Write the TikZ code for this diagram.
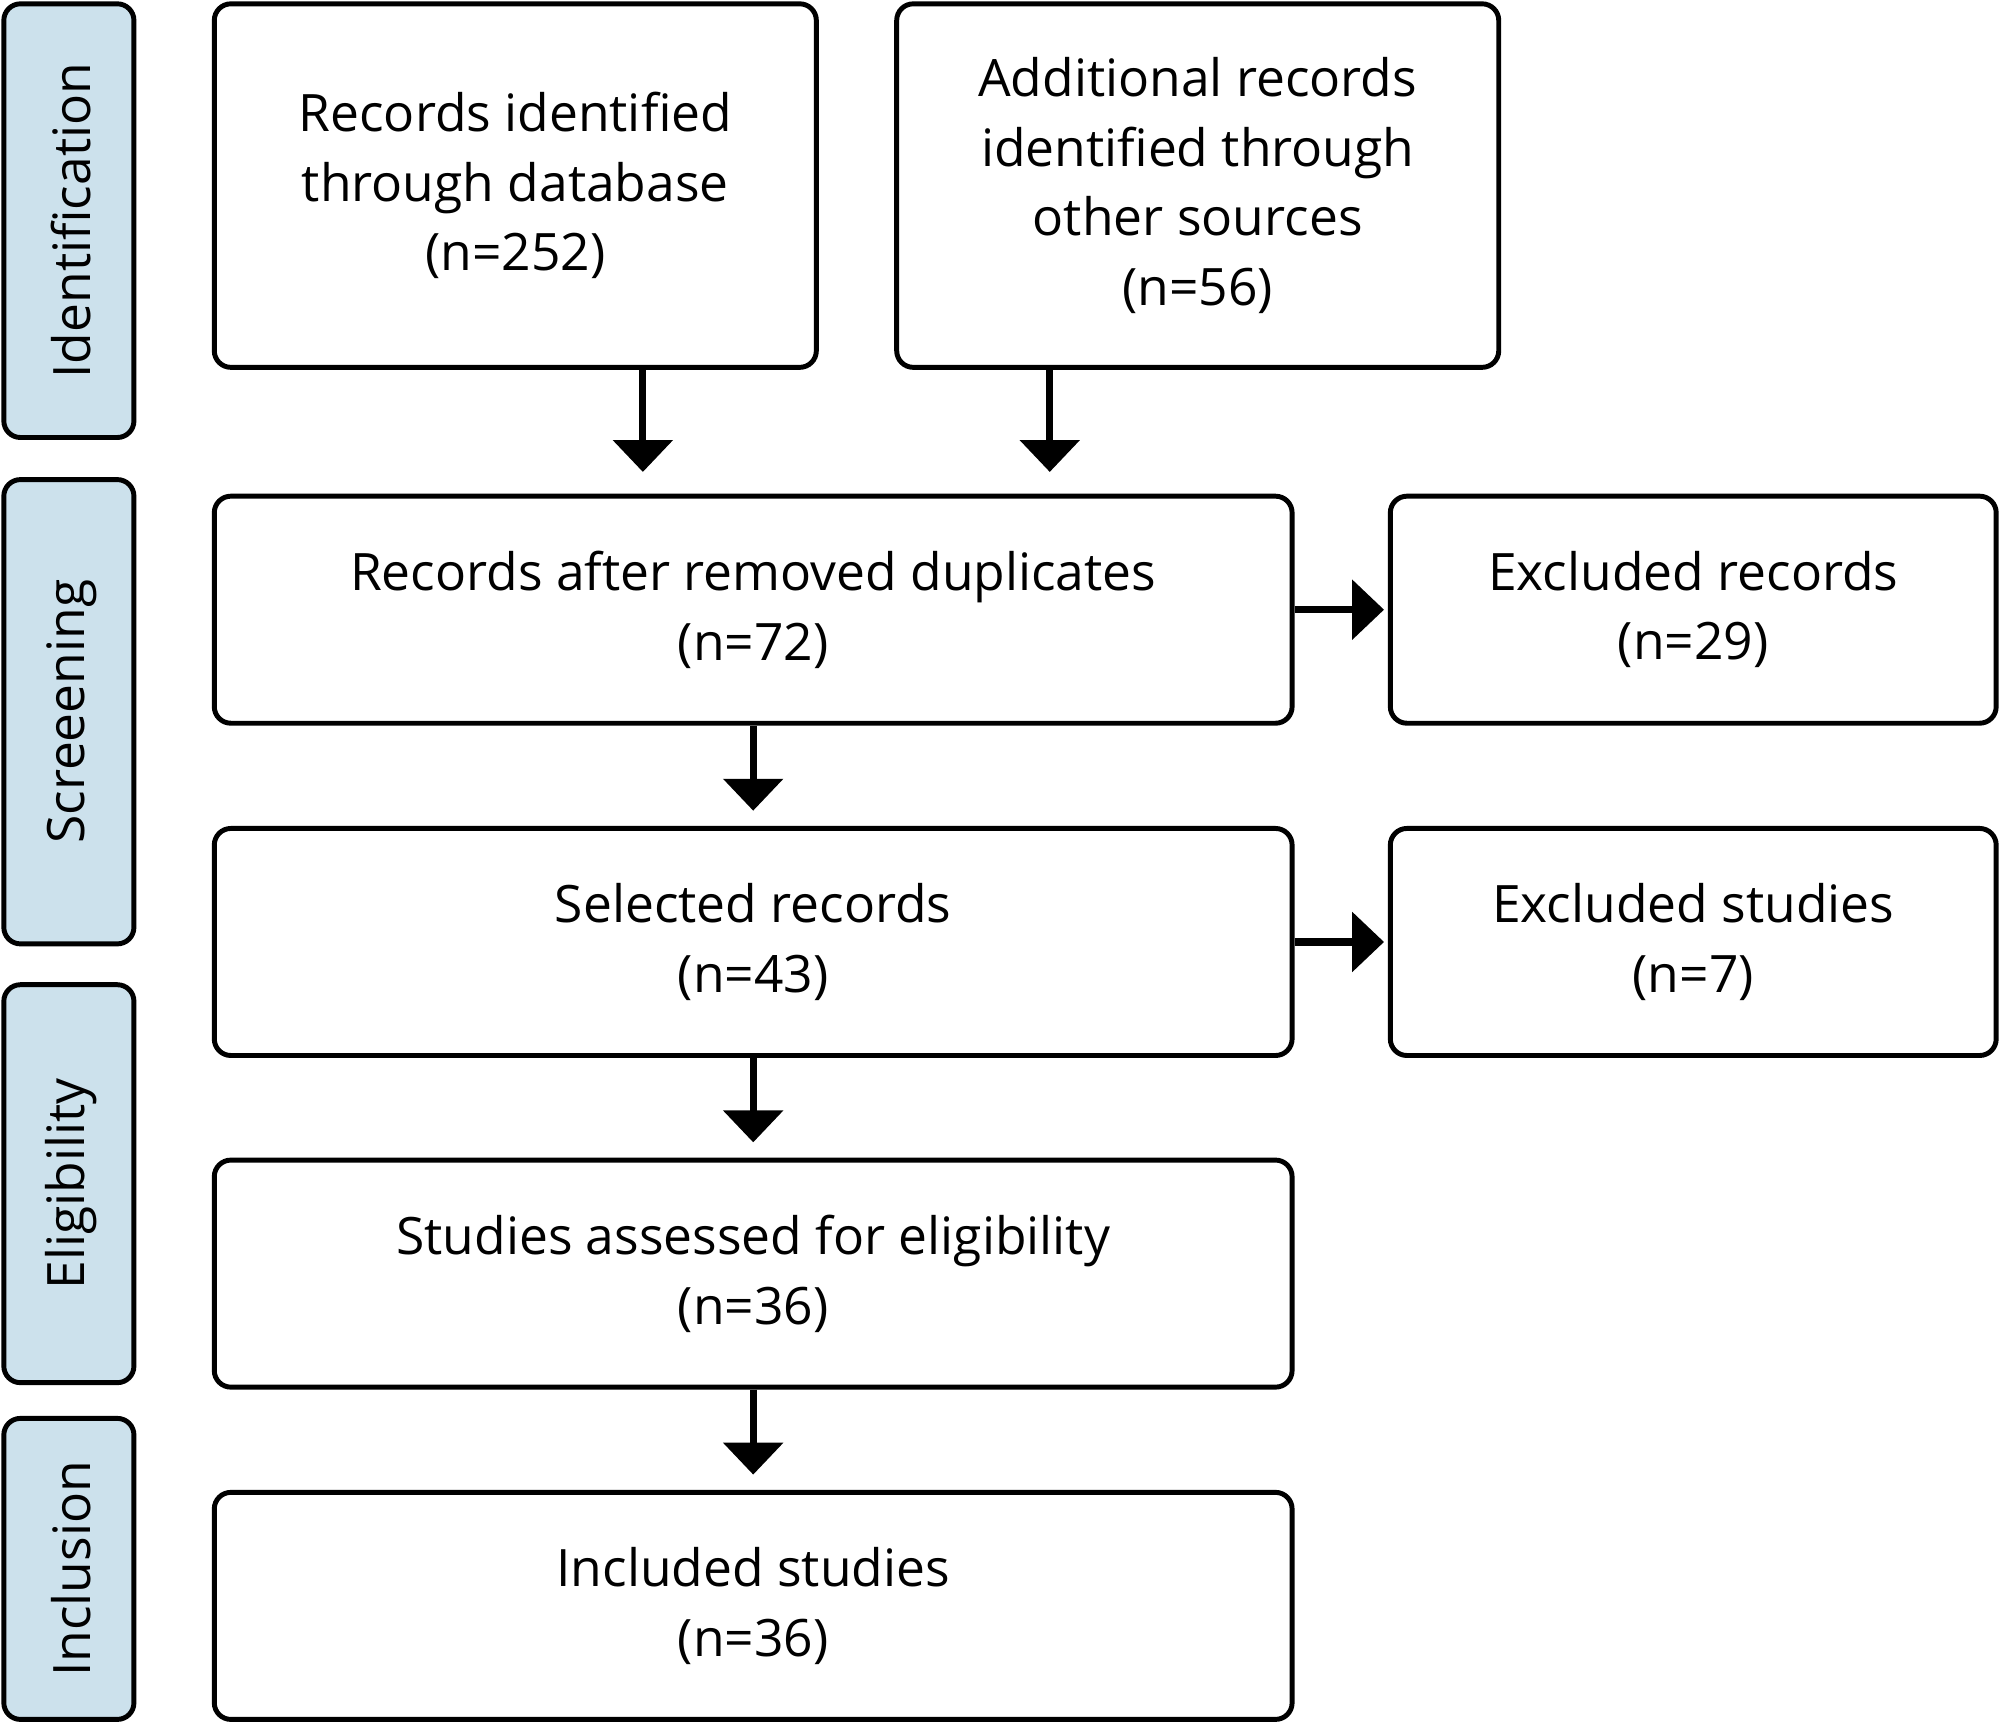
\documentclass[tikz,border=0pt]{standalone}
\usepackage{fontspec}
\setmainfont{Open Sans}
\usetikzlibrary{arrows.meta}
\tikzset{
  stage/.style={draw,line width=1.1pt,rounded corners=0.13cm,fill={rgb,255:red,204;green,225;blue,236}},
  box/.style={draw,line width=1.1pt,rounded corners=0.13cm,align=center,font=\fontsize{11.5}{15.5}\selectfont},
  arr/.style={line width=1.6pt,-{Triangle[width=0.46cm,length=0.25cm]}},
}
\begin{document}
\begin{tikzpicture}
	\useasboundingbox (0,0) rectangle (15.68,-13.51);

	% Phasen
	\foreach \a/\b/\t/\n in {0.03/3.43/Identification/sI,3.76/7.40/Screeening/sS,7.72/10.84/Eligibility/sE,11.12/13.48/Inclusion/sN} {
	    \draw[stage] (0.03,-\a) rectangle (1.05,-\b);
	    \node[rotate=90,font=\fontsize{11.5}{14}\selectfont] (\n) at (0.56,{-(\a+\b)/2}) {\t};
	}

	% Kasten
	\node[box,minimum width=4.72cm,minimum height=2.85cm] (db) at (4.04,-1.455) {Records identified\\through database\\(n=252)};
	\node[box,minimum width=4.72cm,minimum height=2.85cm] (other) at (9.39,-1.455) {Additional records\\identified through\\other sources\\(n=56)};
	\node[box,minimum width=8.45cm,minimum height=1.78cm] (dup) at (5.905,-4.78) {Records after removed duplicates\\(n=72)};
	\node[box,minimum width=4.75cm,minimum height=1.78cm] (exrec) at (13.275,-4.78) {Excluded records\\(n=29)};
	\node[box,minimum width=8.45cm,minimum height=1.78cm] (sel) at (5.905,-7.385) {Selected records\\(n=43)};
	\node[box,minimum width=4.75cm,minimum height=1.78cm] (exstud) at (13.275,-7.385) {Excluded studies\\(n=7)};
	\node[box,minimum width=8.45cm,minimum height=1.78cm] (elig) at (5.905,-9.985) {Studies assessed for eligibility\\(n=36)};
	\node[box,minimum width=8.45cm,minimum height=1.78cm] (incl) at (5.905,-12.59) {Included studies\\(n=36)};

	% Pfeile
	\coordinate (pdb) at (5.04,-3.70);
	\coordinate (pot) at (8.23,-3.70);
	\draw[arr] (pdb |- db.south) -- (pdb);
	\draw[arr] (pot |- other.south) -- (pot);
	\draw[arr,shorten >=0.12cm] (dup) -- (sel);
	\draw[arr,shorten >=0.12cm] (sel) -- (elig);
	\draw[arr,shorten >=0.12cm] (elig) -- (incl);
	\draw[arr,shorten >=0.03cm] (dup) -- (exrec);
	\draw[arr,shorten >=0.03cm] (sel) -- (exstud);
\end{tikzpicture}
\end{document}
